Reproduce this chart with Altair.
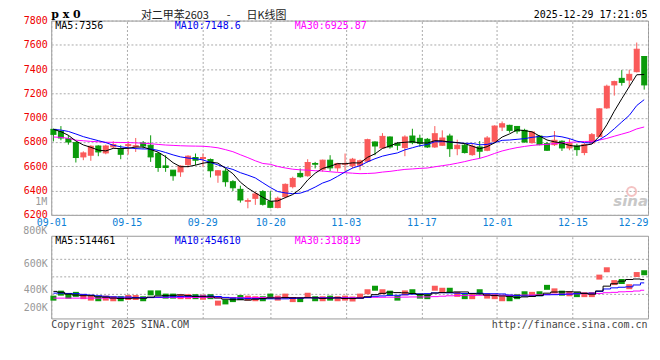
import altair as alt
import pandas as pd

# ---------------- data ----------------
dates = ["09-01","09-02","09-03","09-04","09-05","09-08","09-09","09-10","09-11","09-12",
         "09-15","09-16","09-17","09-18","09-19","09-22","09-23","09-24","09-25","09-26",
         "09-29","09-30","10-09","10-10","10-13","10-14","10-15","10-16","10-17","10-20",
         "10-21","10-22","10-23","10-24","10-27","10-28","10-29","10-30","10-31","11-03",
         "11-04","11-05","11-06","11-07","11-10","11-11","11-12","11-13","11-14","11-17",
         "11-18","11-19","11-20","11-21","11-24","11-25","11-26","11-27","11-28","12-01",
         "12-02","12-03","12-04","12-05","12-08","12-09","12-10","12-11","12-12","12-15",
         "12-16","12-17","12-18","12-19","12-22","12-23","12-24","12-25","12-26","12-29"]

opens = [6904, 6887, 6827, 6795, 6677, 6691, 6767, 6710, 6760, 6740,
         6770, 6764, 6792, 6773, 6704, 6603, 6568, 6554, 6614, 6672,
         6664, 6655, 6527, 6560, 6473, 6410, 6312, 6336, 6391, 6309,
         6260, 6350, 6432, 6541, 6522, 6623, 6576, 6650, 6587, 6617,
         6604, 6609, 6642, 6800, 6751, 6841, 6786, 6754, 6849, 6830,
         6822, 6759, 6773, 6849, 6745, 6773, 6696, 6759, 6732, 6806,
         6923, 6937, 6928, 6896, 6795, 6849, 6786, 6778, 6806, 6751,
         6767, 6713, 6792, 6846, 7081, 7270, 7324, 7310, 7379, 7504]
highs = [6909, 6931, 6855, 6800, 6723, 6773, 6773, 6778, 6806, 6773,
         6806, 6833, 6808, 6855, 6718, 6691, 6568, 6609, 6691, 6705,
         6705, 6664, 6568, 6582, 6486, 6440, 6336, 6391, 6404, 6396,
         6350, 6459, 6514, 6582, 6658, 6636, 6655, 6691, 6628, 6705,
         6669, 6655, 6827, 6806, 6873, 6846, 6800, 6855, 6909, 6860,
         6833, 6931, 6896, 6868, 6819, 6786, 6786, 6808, 6849, 6937,
         6969, 6942, 6928, 6909, 6887, 6855, 6800, 6890, 6814, 6827,
         6786, 6792, 6874, 7078, 7272, 7305, 7392, 7395, 7619, 7504]
lows = [6805, 6814, 6778, 6631, 6650, 6645, 6683, 6699, 6745, 6658,
        6696, 6718, 6745, 6636, 6554, 6554, 6481, 6513, 6590, 6609,
        6595, 6508, 6464, 6432, 6396, 6301, 6254, 6282, 6276, 6254,
        6254, 6336, 6418, 6505, 6514, 6582, 6555, 6560, 6555, 6555,
        6582, 6568, 6631, 6691, 6745, 6745, 6732, 6683, 6781, 6760,
        6751, 6751, 6767, 6677, 6691, 6705, 6686, 6664, 6724, 6800,
        6890, 6877, 6868, 6795, 6786, 6773, 6726, 6767, 6726, 6732,
        6686, 6691, 6786, 6841, 7073, 7182, 7264, 7250, 7373, 7231]
closes = [6863, 6833, 6800, 6672, 6710, 6765, 6718, 6767, 6778, 6699,
          6778, 6769, 6767, 6677, 6590, 6590, 6522, 6601, 6683, 6650,
          6672, 6563, 6563, 6473, 6423, 6322, 6317, 6372, 6287, 6262,
          6336, 6451, 6500, 6514, 6631, 6617, 6650, 6587, 6623, 6623,
          6658, 6645, 6819, 6767, 6846, 6759, 6773, 6841, 6795, 6790,
          6759, 6868, 6833, 6745, 6773, 6713, 6765, 6724, 6833, 6931,
          6950, 6896, 6890, 6800, 6882, 6778, 6732, 6814, 6751, 6786,
          6737, 6778, 6860, 7073, 7259, 7297, 7291, 7357, 7564, 7270]
volumes = [176000, 267000, 213000, 245000, 203000, 176000, 165000, 176000, 165000, 165000,
           187000, 187000, 165000, 272000, 272000, 213000, 213000, 203000, 203000, 203000,
           192000, 203000, 85000, 107000, 149000, 187000, 176000, 165000, 165000, 213000,
           176000, 213000, 149000, 149000, 229000, 165000, 165000, 176000, 165000, 176000,
           160000, 213000, 293000, 357000, 293000, 267000, 176000, 272000, 293000, 213000,
           203000, 357000, 320000, 320000, 245000, 203000, 203000, 293000, 213000, 203000,
           165000, 165000, 203000, 256000, 245000, 256000, 373000, 309000, 267000, 256000,
           240000, 240000, 240000, 560000, 694000, 460000, 480000, 385000, 607000, 640000]

# moving-average values before the window is full
ma5_head = [6904, 6885, 6855, 6808]
ma10_head = [6904, 6898, 6887, 6866, 6844, 6827, 6811, 6795, 6773]
ma30_head = [6841, 6838, 6830, 6815, 6810, 6805, 6802, 6798, 6797, 6796,
             6795, 6793, 6790, 6786, 6780, 6775, 6772, 6769, 6767, 6766,
             6765, 6760, 6752, 6737, 6720, 6695, 6671, 6645, 6623]
vma5_head = [299000, 283000, 250000, 232000]
vma10_head = [267000, 267000, 262000, 258000, 245000, 232000, 220000, 210000, 200000]
vma30_head = [176000, 176000, 176000, 176000, 176000, 176000, 176000, 177000, 178000, 180000,
              183000, 185000, 187000, 187000, 187000, 187000, 187000, 187000, 187000, 187000,
              187000, 187000, 186000, 185000, 185000, 185000, 186000, 187000, 188000]

tick_labels = ["09-01", "09-15", "09-29", "10-20", "11-03", "11-17", "12-01", "12-15", "12-29"]
price_ma_labels = ["MA5:7356", "MA10:7148.6", "MA30:6925.87"]
vol_ma_labels = ["MA5:514461", "MA10:454610", "MA30:318819"]
vol_tick_labels = ["1M", "800K", "600K", "400K", "200K"]
title_symbol = "p x 0"
title_name = "对二甲苯2603"
title_kind = "日K线图"
stamp = "2025-12-29 17:21:05"
footer_left = "Copyright 2025 SINA.COM"
footer_right = "http://finance.sina.com.cn"

# ---------------- derived table ----------------
def rolling(values, n, head):
    s = pd.Series(values, dtype=float).rolling(n).mean().tolist()
    s[:len(head)] = head
    return s

n = len(dates)
df = pd.DataFrame({
    "idx": list(range(n)), "date": dates,
    "open": opens, "high": highs, "low": lows, "close": closes, "vol": volumes,
})
df["xl"] = df["idx"] - 0.4
df["xr"] = df["idx"] + 0.4
df["dir"] = ["up" if c >= o else "down" for o, c in zip(opens, closes)]
df["ma5"] = rolling(closes, 5, ma5_head)
df["ma10"] = rolling(closes, 10, ma10_head)
df["ma30"] = rolling(closes, 30, ma30_head)
df["vma5"] = rolling(volumes, 5, vma5_head)
df["vma10"] = rolling(volumes, 10, vma10_head)
df["vma30"] = rolling(volumes, 30, vma30_head)

tick_pos = [dates.index(t) for t in tick_labels]
tick_df = pd.DataFrame({"pos": tick_pos, "label": tick_labels})
label_expr = "''"
for p, l in reversed(list(zip(tick_pos, tick_labels))):
    label_expr = f"datum.value == {p} ? '{l}' : {label_expr}"

# ---------------- styling ----------------
MONO = "DejaVu Sans Mono"
RED = "#fa5a5a"
GREEN = "#0a9a0a"
BLUE_LBL = "#0d7fd6"
GRID = "#aaaaaa"
VOL_LBL = "#999999"
W, H1, H2 = 599, 195, 83

dir_scale = alt.Scale(domain=["up", "down"], range=[RED, GREEN])
xc = alt.Scale(domain=[-0.293, 79.51], nice=False, zero=False)
xg = alt.Scale(domain=[0, n - 1], nice=False, zero=False)
yp = alt.Scale(domain=[6200, 7800], nice=False, zero=False)
yv = alt.Scale(domain=[-104000, 1224000], nice=False, zero=False)

price_axis = alt.Axis(values=list(range(6200, 7801, 200)), format="d", grid=True, gridColor=GRID,
                      gridDash=[2, 2], ticks=False, domain=False, labelColor="#ee0000",
                      labelPadding=4, title=None, labelOverlap=False)
vol_axis = alt.Axis(values=[804800, 324800, 4800],
                    labelExpr="datum.value > 600000 ? '600K' : datum.value > 100000 ? '400K' : '200K'",
                    grid=False, ticks=False, domain=False, labelColor=VOL_LBL,
                    labelPadding=4, title=None, labelOverlap=False)
xaxis_main = alt.Axis(values=tick_pos, labelExpr=label_expr, grid=True, gridColor=GRID,
                      gridDash=[2, 2], ticks=False, domain=False, labelColor=BLUE_LBL,
                      labelPadding=3, labelFlush=False, labelOverlap=False, title=None,
                      labelAlign={"condition": {"test": f"datum.value >= {n - 1}", "value": "right"},
                                  "value": "center"})
xaxis_vol = alt.Axis(values=tick_pos, grid=True, gridColor=GRID, gridDash=[2, 2],
                     ticks=False, domain=False, labels=False, title=None)

color = alt.Color("dir:N", scale=dir_scale, legend=None)
base = alt.Chart(df)


def note(txt, x, y, col, size=10, font=MONO, align="left", weight="normal", style="normal",
         baseline="alphabetic"):
    return alt.Chart(pd.DataFrame({"t": [txt]})).mark_text(
        align=align, baseline=baseline, font=font, fontSize=size, color=col,
        fontWeight=weight, fontStyle=style
    ).encode(x=alt.value(x), y=alt.value(y), text="t:N")


# ---------------- price panel ----------------
grid_top = alt.Chart(tick_df).mark_point(opacity=0).encode(
    x=alt.X("pos:Q", scale=xg, axis=xaxis_main))

wick = base.mark_rule(strokeWidth=1).encode(
    x=alt.X("idx:Q", scale=xc, axis=None),
    y=alt.Y("low:Q", scale=yp, axis=price_axis), y2="high:Q", color=color)
body = base.mark_rect().encode(
    x=alt.X("xl:Q", scale=xc, axis=None), x2="xr:Q",
    y=alt.Y("open:Q", scale=yp, axis=price_axis), y2="close:Q", color=color)
otick = base.mark_rule(strokeWidth=1).encode(
    x=alt.X("xl:Q", scale=xc, axis=None), x2="xr:Q",
    y=alt.Y("open:Q", scale=yp, axis=price_axis), color=color)
ctick = base.mark_rule(strokeWidth=1).encode(
    x=alt.X("xl:Q", scale=xc, axis=None), x2="xr:Q",
    y=alt.Y("close:Q", scale=yp, axis=price_axis), color=color)


def ma_line(field, col, scale, axis, interp="linear"):
    return base.mark_line(color=col, strokeWidth=1, interpolate=interp).encode(
        x=alt.X("idx:Q", scale=xc, axis=None),
        y=alt.Y(f"{field}:Q", scale=scale, axis=axis))


candles = alt.layer(
    wick, body, otick, ctick,
    ma_line("ma30", "#ff00ff", yp, price_axis),
    ma_line("ma10", "#0000ff", yp, price_axis),
    ma_line("ma5", "#000000", yp, price_axis),
)

logo = alt.Chart(pd.DataFrame({"t": ["logo"]})).mark_point(
    shape="circle", filled=False, size=80, color="#f2b4b4", strokeWidth=2, opacity=0.8
).encode(x=alt.value(582.5), y=alt.value(171.5))

top = alt.layer(
    grid_top, candles,
    note(price_ma_labels[0], 4, 8.8, "#000000"),
    note(price_ma_labels[1], 124, 8.8, "#0000ee"),
    note(price_ma_labels[2], 244.5, 8.8, "#ff00ff"),
    note(title_symbol, 0, -2.5, "#000000", size=11, font="DejaVu Serif", weight="bold"),
    note(title_name, 90, -1.5, "#222222", size=11, font="Noto Sans CJK SC"),
    note("-", 178, -1.5, "#222222", size=11, font="Noto Sans CJK SC", align="center"),
    note(title_kind, 196, -1.5, "#222222", size=11, font="Noto Sans CJK SC"),
    note(stamp, 598.5, -2.5, "#000000", align="right"),
    logo,
    note("sina", 599, 186.5, "#c8c8c8", size=15, font="DejaVu Sans", align="right",
         weight="bold", style="italic"),
).resolve_scale(x="independent").properties(width=W, height=H1)

# ---------------- volume panel ----------------
grid_bot = alt.Chart(tick_df).mark_point(opacity=0).encode(
    x=alt.X("pos:Q", scale=xg, axis=xaxis_vol))
vgrid = alt.Chart(pd.DataFrame({"g": [244800, 564800, 884800]})).mark_rule(
    color=GRID, strokeDash=[2, 2], strokeWidth=1).encode(
    y=alt.Y("g:Q", scale=yv, axis=vol_axis))
vbars = base.mark_bar().encode(
    x=alt.X("xl:Q", scale=xc, axis=None), x2="xr:Q",
    y=alt.Y("vol:Q", scale=yv, axis=vol_axis), color=color)

vol_layers = alt.layer(
    vbars,
    ma_line("vma30", "#ff00ff", yv, vol_axis, "step"),
    ma_line("vma10", "#0000ff", yv, vol_axis, "step"),
    ma_line("vma5", "#000000", yv, vol_axis, "step"),
)

bottom = alt.layer(
    vgrid, grid_bot, vol_layers,
    note(vol_ma_labels[0], 4, 7.8, "#000000"),
    note(vol_ma_labels[1], 124, 7.8, "#0000ee"),
    note(vol_ma_labels[2], 244.5, 7.8, "#ff00ff"),
    note(vol_tick_labels[0], -4, -33.8, VOL_LBL, align="right", baseline="middle"),
    note(vol_tick_labels[1], -4, -4.5, VOL_LBL, align="right", baseline="middle"),
    note(footer_left, 0, 92.8, "#444444"),
    note(footer_right, 598.5, 92.8, "#444444", align="right"),
).resolve_scale(x="independent").properties(width=W, height=H2)

chart = alt.vconcat(top, bottom, spacing=21, bounds="flush").configure_view(
    stroke="#999999", strokeWidth=1
).configure_axis(
    labelFont=MONO, labelFontSize=10
).properties(
    padding={"left": 14.4, "top": 0, "right": 0, "bottom": 4}
)

chart.save("out.html", embed_options={"renderer": "svg", "actions": False})
